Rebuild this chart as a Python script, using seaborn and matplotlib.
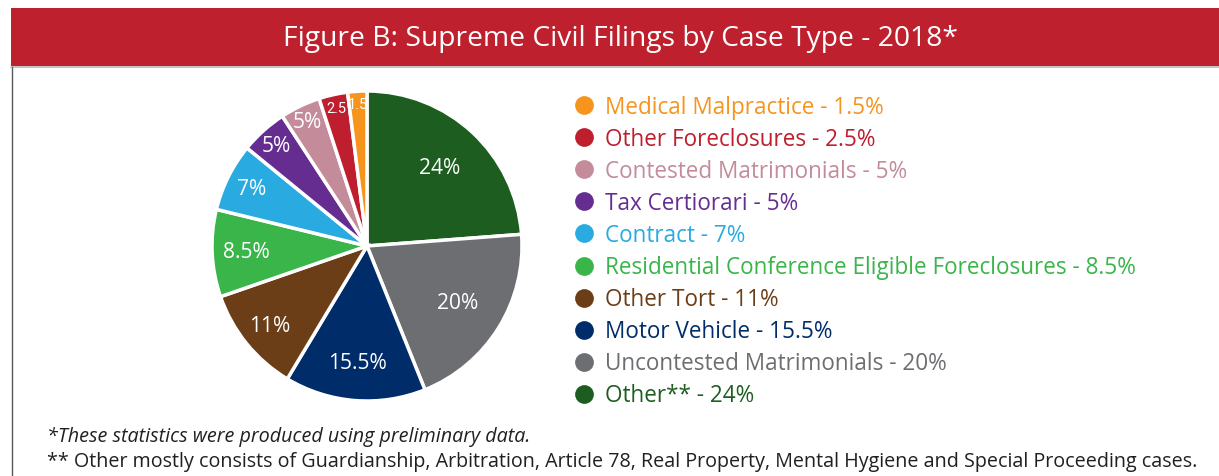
import matplotlib
matplotlib.use("Agg")
import matplotlib.pyplot as plt
import seaborn as sns
from matplotlib.patches import Rectangle
from matplotlib.lines import Line2D
import numpy as np

# ---- data ----
categories = ["Other**", "Uncontested Matrimonials", "Motor Vehicle", "Other Tort",
              "Residential Conference Eligible Foreclosures", "Contract", "Tax Certiorari",
              "Contested Matrimonials", "Other Foreclosures", "Medical Malpractice"]
# slice sizes as drawn in the picture (percent)
values = [23.8, 20.1, 14.7, 11.1, 9.1, 7.1, 4.9, 4.2, 3.0, 2.0]
slice_labels = ["24%", "20%", "15.5%", "11%", "8.5%", "7%", "5%", "5%", "2.5", "1.5"]
legend_labels = ["Other** - 24%", "Uncontested Matrimonials - 20%", "Motor Vehicle - 15.5%",
                 "Other Tort - 11%", "Residential Conference Eligible Foreclosures - 8.5%",
                 "Contract - 7%", "Tax Certiorari - 5%", "Contested Matrimonials - 5%",
                 "Other Foreclosures - 2.5%", "Medical Malpractice - 1.5%"]
title = "Figure B: Supreme Civil Filings by Case Type - 2018*"
note1 = "*These statistics were produced using preliminary data."
note2 = ("** Other mostly consists of Guardianship, Arbitration, Article 78, Real Property, "
         "Mental Hygiene and Special Proceeding cases.")

# ---- style ----
colors = ["#1D5E20", "#6D6E71", "#002D6A", "#6B3E17", "#39B54A",
          "#29ABE2", "#662D91", "#C48B9A", "#BE1E2D", "#F7941D"]
label_radius = [0.69, 0.69, 0.755, 0.81, 0.78, 0.835, 0.875, 0.89, 0.91, 0.92]

sns.set_theme(style="white")
plt.rcParams['font.family'] = ['Open Sans', 'DejaVu Sans']
palette = sns.color_palette(colors)

W, H = 1219, 477
fig = plt.figure(figsize=(W / 100, H / 100), dpi=100)
fig.patch.set_facecolor("white")
renderer = fig.canvas.get_renderer()


def fy(y):
    return 1 - y / H


def fx(x):
    return x / W


def fit(t, target_px):
    w = t.get_window_extent(renderer).width
    t.set_fontsize(t.get_fontsize() * target_px / w)
    return t.get_fontsize()


# header bar
fig.patches.append(Rectangle((fx(11), fy(67)), 1 - fx(11), (67 - 9) / H,
                             transform=fig.transFigure, facecolor="#BE202E",
                             edgecolor="none", zorder=0))
fig.lines.append(Line2D([fx(11), 1], [fy(67.5), fy(67.5)], transform=fig.transFigure,
                        color="#B8B9BB", lw=1.2))
fig.lines.append(Line2D([fx(11.5), fx(11.5)], [fy(67.5), 0], transform=fig.transFigure,
                        color="#58595B", lw=1.0))
t = fig.text(fx(620), fy(39), title, color="white", fontsize=16, ha="center", va="center")
fit(t, 675)

# pie
cx, cy, R = 367, 247, 155
half = 162
ax = fig.add_axes([fx(cx - half), fy(cy + half), 2 * half / W, 2 * half / H])
wedges, _ = ax.pie(values, colors=palette, startangle=90, counterclock=False,
                   radius=1, wedgeprops=dict(edgecolor="white", linewidth=2.5))
lim = half / R
ax.set_xlim(-lim, lim)
ax.set_ylim(-lim, lim)
ax.set_aspect("equal")
ax.axis("off")
texts = []
for w, lab, r in zip(wedges, slice_labels, label_radius):
    ang = np.deg2rad((w.theta1 + w.theta2) / 2)
    small = lab in ("2.5", "1.5")
    tt = ax.text(r * np.cos(ang), r * np.sin(ang), lab, color="white",
                 fontsize=14, ha="center", va="center", zorder=5,
                 family=['Roboto', 'DejaVu Sans'] if small else None)
    texts.append(tt)
fs = fit(texts[2], 59)
for tt, lab in zip(texts, slice_labels):
    tt.set_fontsize(10.5 if lab in ("2.5", "1.5") else fs)

# legend (listed in reverse order)
y0, dy = 107.5, 32.1
ltexts = []
for i, (lab, col) in enumerate(zip(legend_labels[::-1], colors[::-1])):
    y = y0 + i * dy
    fig.lines.append(Line2D([fx(584)], [fy(y - 1.5)], transform=fig.transFigure, marker="o",
                            markersize=13.5, color=col, markeredgewidth=0, linestyle="none"))
    ltexts.append(fig.text(fx(605), fy(y), lab, color=col, fontsize=14,
                           ha="left", va="center"))
longest = max(ltexts, key=lambda t: len(t.get_text()))
lfs = fit(longest, 533)
for t in ltexts:
    t.set_fontsize(lfs)

# footnotes
n1 = fig.text(fx(47), fy(437), note1, color="#231F20", fontsize=12, style="italic",
              ha="left", va="center")
n2 = fig.text(fx(47), fy(462), note2, color="#231F20", fontsize=12, ha="left", va="center")
nfs = fit(n2, 1148)
n1.set_fontsize(nfs)

fig.savefig("out.png", dpi=100, facecolor="white")
